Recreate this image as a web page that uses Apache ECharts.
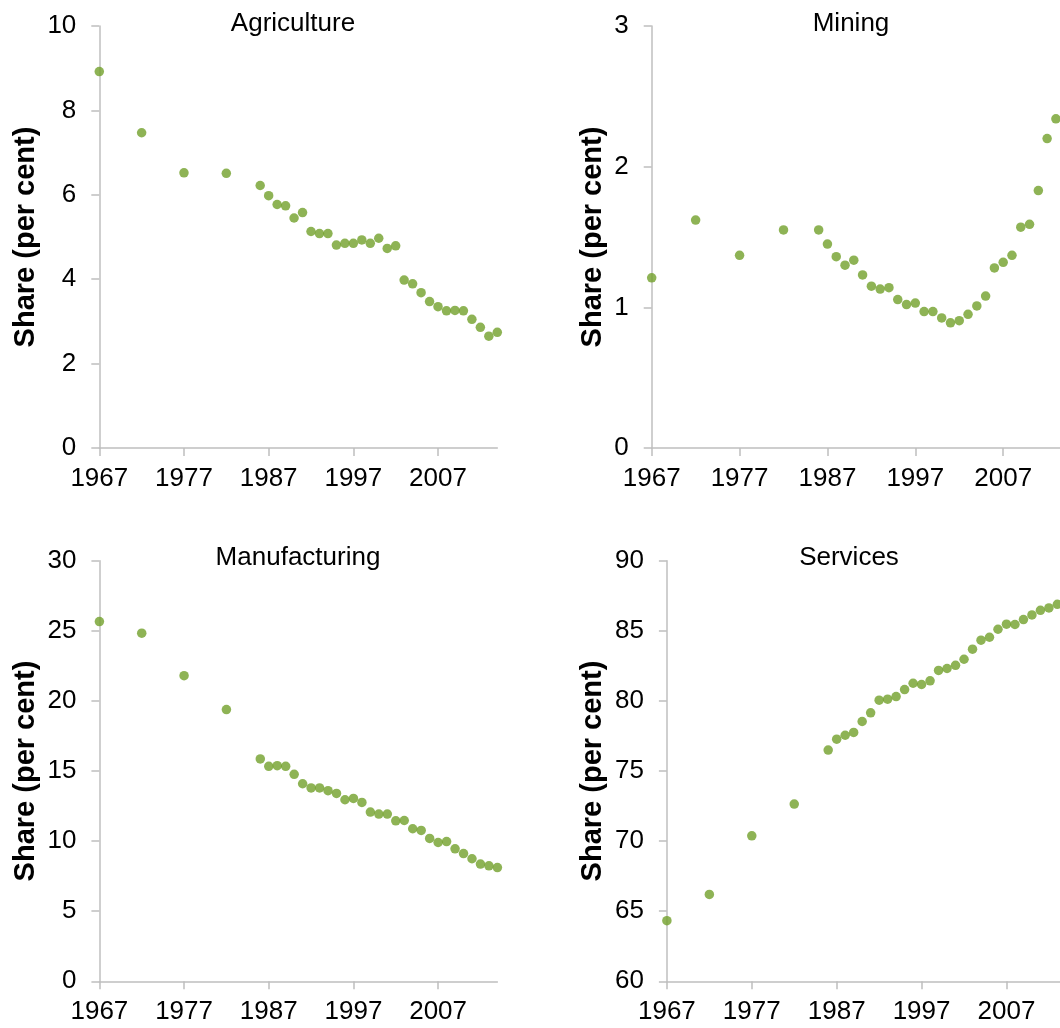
<!DOCTYPE html>
<html>
<head>
<meta charset="utf-8">
<script src="https://cdn.jsdelivr.net/npm/echarts@6/dist/echarts.min.js"></script>
<style>
html, body { margin: 0; padding: 0; background: #fff; }
#main { width: 1060px; height: 1028px; }
</style>
</head>
<body>
<div id="main"></div>
<script>
// years with an observation
const years = [1967, 1972, 1977, 1982, 1986, 1987, 1988, 1989, 1990, 1991, 1992,
    1993, 1994, 1995, 1996, 1997, 1998, 1999, 2000, 2001, 2002, 2003, 2004,
    2005, 2006, 2007, 2008, 2009, 2010, 2011, 2012, 2013, 2014];

// share of employment, per cent
const agriculture = [8.92, 7.47, 6.52, 6.51, 6.22, 5.98, 5.77, 5.74, 5.45, 5.58, 5.13,
    5.08, 5.08, 4.81, 4.85, 4.85, 4.93, 4.85, 4.97, 4.73, 4.79, 3.98, 3.89,
    3.68, 3.47, 3.35, 3.25, 3.26, 3.25, 3.05, 2.86, 2.65, 2.74];
// last year of mining and services falls outside the picture
const mining = [1.21, 1.62, 1.37, 1.55, 1.55, 1.45, 1.36, 1.30, 1.335, 1.23, 1.15,
    1.13, 1.14, 1.055, 1.02, 1.03, 0.97, 0.97, 0.925, 0.89, 0.905, 0.95, 1.01,
    1.08, 1.28, 1.32, 1.37, 1.57, 1.59, 1.83, 2.20, 2.34];
const manufacturing = [25.66, 24.83, 21.8, 19.38, 15.86, 15.33, 15.38, 15.33, 14.76, 14.09, 13.79,
    13.79, 13.6, 13.4, 12.95, 13.04, 12.76, 12.07, 11.93, 11.93, 11.45, 11.47, 10.88,
    10.76, 10.19, 9.9, 9.97, 9.45, 9.11, 8.74, 8.36, 8.24, 8.11];
const services = [64.32, 66.2, 70.38, 72.64, 76.49, 77.27, 77.55, 77.75, 78.53, 79.15, 80.05,
    80.12, 80.31, 80.81, 81.26, 81.17, 81.43, 82.17, 82.31, 82.54, 82.97, 83.69, 84.33,
    84.54, 85.11, 85.47, 85.45, 85.8, 86.13, 86.46, 86.63, 86.89];

const yearTicks = [1967, 1977, 1987, 1997, 2007];

const font = 'Liberation Sans, Arial, sans-serif';
const green = '#72A02A';
const grey = '#BFBFBF';

const panels = [
    { title: 'Agriculture', values: agriculture, min: 0, max: 10, step: 2,
      grid: { left: 99.3, top: 26, width: 398, height: 422 }, titleX: 293, titleY: 10.5, gap: 58.5 },
    { title: 'Mining', values: mining, min: 0, max: 3, step: 1,
      grid: { left: 651.7, top: 26, width: 413, height: 422 }, titleX: 851, titleY: 10.5, gap: 44.5 },
    { title: 'Manufacturing', values: manufacturing, min: 0, max: 30, step: 5,
      grid: { left: 99.4, top: 560.7, width: 398, height: 420.6 }, titleX: 298, titleY: 545, gap: 58.5 },
    { title: 'Services', values: services, min: 60, max: 90, step: 5,
      grid: { left: 666.9, top: 560.7, width: 399, height: 420.6 }, titleX: 849, titleY: 545, gap: 59.5 }
];

const myChart = echarts.init(document.getElementById('main'));

const option = {
    animation: false,
    backgroundColor: '#fff',
    title: panels.map(p => ({
        text: p.title,
        left: p.titleX,
        top: p.titleY,
        textAlign: 'center',
        padding: 0,
        textStyle: { fontFamily: font, fontSize: 26, fontWeight: 'normal', color: '#000' }
    })),
    grid: panels.map(p => Object.assign({ outerBoundsMode: 'none', containLabel: false }, p.grid)),
    xAxis: panels.map((p, i) => ({
        type: 'value',
        gridIndex: i,
        min: 1967,
        max: 2014,
        interval: 10,
        splitLine: { show: false },
        axisLine: { show: true, lineStyle: { color: grey, width: 1.5 } },
        axisTick: { show: true, length: 8, lineStyle: { color: grey, width: 1.5 }, customValues: yearTicks },
        axisLabel: {
            customValues: yearTicks,
            margin: 18,
            fontFamily: font,
            fontSize: 26,
            color: '#000',
            formatter: v => String(v)
        }
    })),
    yAxis: panels.map((p, i) => ({
        type: 'value',
        gridIndex: i,
        min: p.min,
        max: p.max,
        interval: p.step,
        name: 'Share (per cent)',
        nameLocation: 'middle',
        nameGap: p.gap,
        nameTextStyle: { fontFamily: font, fontSize: 29, fontWeight: 'bold', color: '#000' },
        splitLine: { show: false },
        axisLine: { show: true, lineStyle: { color: grey, width: 1.5 } },
        axisTick: { show: true, length: 8, lineStyle: { color: grey, width: 1.5 } },
        axisLabel: { margin: 23, fontFamily: font, fontSize: 26, color: '#000' }
    })),
    series: panels.map((p, i) => ({
        name: p.title,
        type: 'scatter',
        xAxisIndex: i,
        yAxisIndex: i,
        symbol: 'circle',
        symbolSize: 9.5,
        clip: false,
        itemStyle: { color: green },
        data: p.values.map((v, k) => [years[k], v])
    }))
};

option && myChart.setOption(option);
</script>
</body>
</html>
